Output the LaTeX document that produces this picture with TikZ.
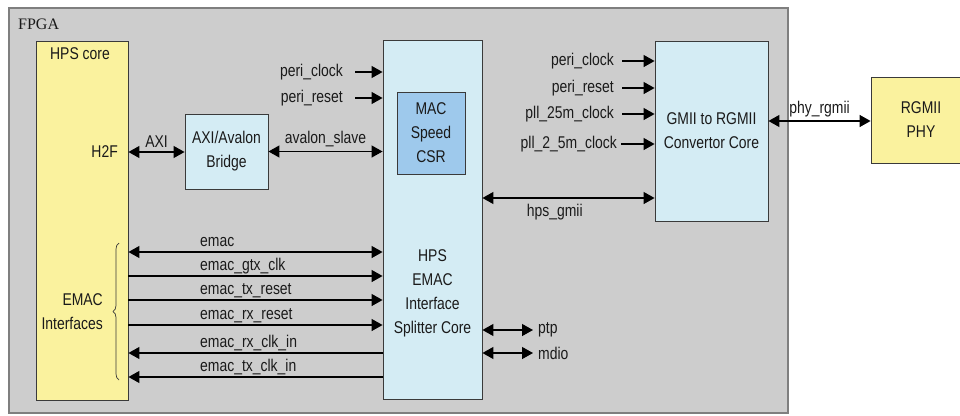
\documentclass[tikz,border=0pt]{standalone}
\usepackage{fontspec}
\setmainfont{Liberation Sans}[FakeStretch=0.82]
\newfontfamily\fpgafont{Liberation Serif}
\usetikzlibrary{arrows.meta,calc,decorations.pathreplacing}
\definecolor{fpgagray}{HTML}{CDCDCD}
\definecolor{fpgaedge}{HTML}{7F7F7F}
\definecolor{edge}{HTML}{3A3A3A}
\definecolor{hpsyellow}{HTML}{FAF29E}
\definecolor{coreblue}{HTML}{D4ECF4}
\definecolor{csrblue}{HTML}{9EC9EC}
\definecolor{ink}{HTML}{1A1A1A}
\newcommand\sigfont{\fontsize{17}{24}\selectfont}
\tikzset{
  block/.style={draw=edge,line width=0.9pt,align=center,font=\sigfont,text=ink,inner sep=0pt},
  hpsbox/.style={block,fill=hpsyellow},
  corebox/.style={block,fill=coreblue},
  csrbox/.style={block,fill=csrblue},
  sig/.style={font=\sigfont,text=ink,inner xsep=0pt,inner ysep=1pt},
  wire/.style={-{Triangle[length=11pt,width=12pt]},line width=1.3pt,draw=black},
  backwire/.style={{Triangle[length=11pt,width=12pt]}-,line width=1.3pt,draw=black},
  biwire/.style={{Triangle[length=11pt,width=12pt]}-{Triangle[length=11pt,width=12pt]},line width=1.3pt,draw=black}
}
\begin{document}
\begin{tikzpicture}[x=1pt,y=-1pt]
  \useasboundingbox (0,0) rectangle (960,415);
  % FPGA frame
  \draw[fill=fpgagray,draw=fpgaedge,line width=1.2pt] (9,8) rectangle (788,413);
  \node[font=\fpgafont\fontsize{16}{18}\selectfont,text=ink,anchor=west,inner sep=0pt] (fpga) at (18,24) {FPGA};

  % blocks
  \node[hpsbox,minimum width=92pt,minimum height=359pt] (hps) at (82,220.5) {};
  \node[corebox,minimum width=83pt,minimum height=75pt] (bridge) at (226.5,151.5) {AXI/Avalon\\Bridge};
  \node[corebox,minimum width=99pt,minimum height=359pt] (split) at (432.5,219.5) {};
  \node[csrbox,minimum width=68pt,minimum height=82pt] (csr) at (431,133) {MAC\\Speed\\CSR};
  \node[corebox,minimum width=113pt,minimum height=180pt] (gmii) at (711.5,131) {GMII to RGMII\\Convertor Core};
  \node[hpsbox,minimum width=100pt,minimum height=86pt,text width=80pt,xshift=-6pt] (phy) at (927,120) {RGMII\\PHY};

  % texts inside the tall blocks
  \node[sig,anchor=north] (hpstitle) at ($(hps.north)+(-2,6)$) {HPS core};
  \node[sig,anchor=east] (h2f) at (118,152) {H2F};
  \node[sig,align=right,anchor=east] (emacif) at (103,312) {EMAC\\Interfaces};
  \node[sig,align=center] (splittxt) at (432.5,293) {HPS\\EMAC\\Interface\\Splitter Core};
  \draw[decorate,decoration={brace,amplitude=6pt},line width=0.7pt,draw=edge] (119,380) -- (119,243);

  % bus to the bridge and splitter
  \draw[biwire] (h2f.east -| hps.east) -- node[sig,above=3pt] {AXI} (h2f.east -| bridge.west);
  \draw[biwire] (bridge.east) -- node[sig,above=3pt] {avalon\_slave} (bridge.east -| split.west);

  % clock and reset into the splitter
  \node[sig,anchor=east] (pclkA) at (343,72) {peri\_clock};
  \node[sig,anchor=east] (presA) at (343,98) {peri\_reset};
  \draw[wire,shorten <=12pt] (pclkA.east) -- (pclkA.east -| split.west);
  \draw[wire,shorten <=12pt] (presA.east) -- (presA.east -| split.west);

  % clock and reset into the convertor
  \node[sig,anchor=east] (pclkB) at (614,61) {peri\_clock};
  \node[sig,anchor=east] (presB) at (614,88) {peri\_reset};
  \node[sig,anchor=east] (pll25) at (614,114) {pll\_25m\_clock};
  \node[sig,anchor=east] (pll2) at (617,144) {pll\_2\_5m\_clock};
  \foreach \n in {pclkB,presB,pll25} {
    \draw[wire,shorten <=8pt] (\n.east) -- (\n.east -| gmii.west);
  }
  \draw[wire,shorten <=4pt] (pll2.east) -- (pll2.east -| gmii.west);

  % gmii and rgmii links
  \coordinate (gmiiy) at (0,198);
  \draw[biwire] (gmiiy -| split.east) -- node[sig,below=5pt,pos=0.42] {hps\_gmii} (gmiiy -| gmii.west);
  \coordinate (rgmiiy) at (0,121);
  \draw[biwire] (rgmiiy -| gmii.east) -- node[sig,above=2pt] {phy\_rgmii} (rgmiiy -| phy.west);

  % EMAC interface signals
  \foreach \y/\lbl/\sty in {252/emac/biwire,276/emac\_gtx\_clk/wire,300/emac\_tx\_reset/wire,
      325/emac\_rx\_reset/wire,353/emac\_rx\_clk\_in/backwire,377/emac\_tx\_clk\_in/backwire} {
    \coordinate (sy) at (0,\y);
    \draw[\sty] (sy -| hps.east) -- (sy -| split.west);
    \node[sig,anchor=base west] at (200,\y-6) {\lbl};
  }

  % ptp and mdio
  \node[sig,anchor=west] (ptp) at (538,330) {ptp};
  \node[sig,anchor=west] (mdio) at (538,353) {mdio};
  \draw[biwire,shorten >=5pt] (ptp.west -| split.east) -- (ptp.west);
  \draw[biwire,shorten >=5pt] (mdio.west -| split.east) -- (mdio.west);
\end{tikzpicture}
\end{document}
